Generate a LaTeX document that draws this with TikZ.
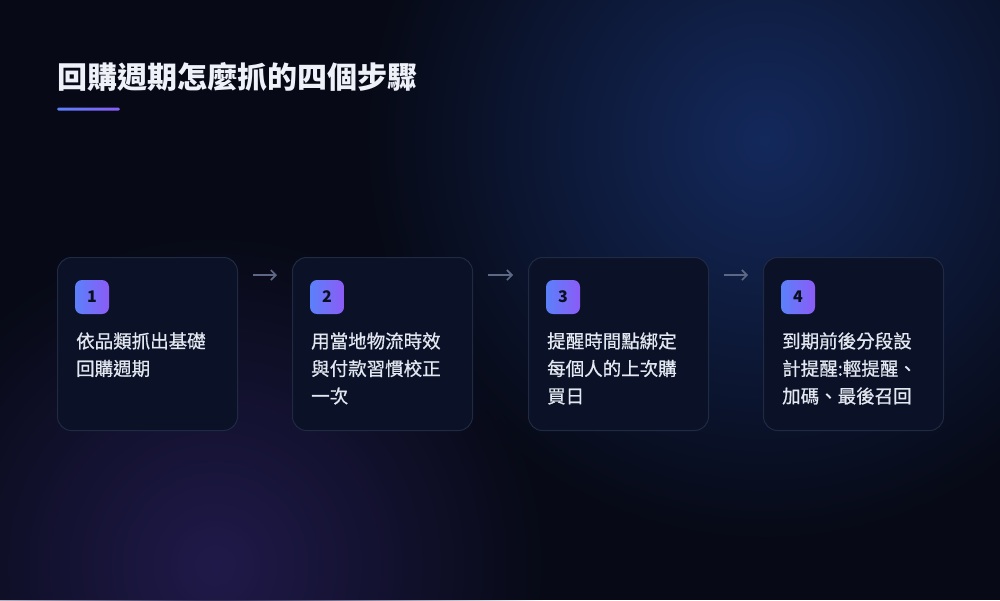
\documentclass[tikz,border=0pt]{standalone}
\usepackage{fontspec}
\newfontfamily\cjk{Noto Sans CJK TC}
\newfontfamily\cjkmed{Noto Sans CJK TC}[FakeBold=0.8]
\usetikzlibrary{arrows.meta,fadings}

\definecolor{bgc}{HTML}{070A16}
\definecolor{glowb}{HTML}{14295C}
\definecolor{glowp}{HTML}{201A4A}
\definecolor{cardfill}{HTML}{0B1126}
\definecolor{cardline}{HTML}{1F2A43}
\definecolor{badgea}{HTML}{5B80FA}
\definecolor{badgeb}{HTML}{8B5CF6}
\definecolor{badgetext}{HTML}{0B1020}
\definecolor{titlec}{HTML}{EEF1F8}
\definecolor{bodyc}{HTML}{E2E7F0}
\definecolor{arrowc}{HTML}{5E6884}

\tikzfading[name=glowfade, inner color=transparent!0, outer color=transparent!100]

\begin{document}
\begin{tikzpicture}[x=1pt,y=-1pt,
  card/.style={draw=cardline,fill=cardfill,line width=1pt,rounded corners=14pt,
    minimum width=180pt,minimum height=173pt,anchor=north west,inner sep=0pt},
  badge/.style={rounded corners=7pt,left color=badgea,right color=badgeb,
    minimum width=34pt,minimum height=34pt,inner sep=0pt,text=badgetext,
    font=\cjk\bfseries\fontsize{16}{16}\selectfont},
  steptext/.style={anchor=base west,align=left,inner sep=0pt,text=bodyc,
    font=\cjkmed\fontsize{18.5}{27.5}\selectfont},
  flow/.style={draw=arrowc,line width=1.6pt,-{Straight Barb[length=5pt,width=10pt]}}]

% background
\useasboundingbox (0,0) rectangle (1000,600);
\clip (0,0) rectangle (1000,600);
\fill[bgc] (0,0) rectangle (1000,600);
\fill[glowb,path fading=glowfade] (765,140) circle (400);
\fill[glowp,path fading=glowfade] (215,565) circle (330);

% title
\node[anchor=base west,inner sep=0pt,text=titlec,font=\cjk\bfseries\fontsize{30}{30}\selectfont] (title) at (57,88) {回購週期怎麼抓的四個步驟};
\shade[left color=badgea,right color=badgeb,rounded corners=1.5pt] (57,107.5) rectangle (120,110.5);

% cards
\node[card] (s1) at (57,257) {};
\node[card] (s2) at (292,257) {};
\node[card] (s3) at (528,257) {};
\node[card] (s4) at (763,257) {};

\node[badge] (b1) at (92,297) {1};
\node[badge] (b2) at (327,297) {2};
\node[badge] (b3) at (563,297) {3};
\node[badge] (b4) at (798,297) {4};

% base west sits on the last line
\node[steptext] (t1) at (76,375.5) {依品類抓出基礎\\回購週期};
\node[steptext] (t2) at (311,403) {用當地物流時效\\與付款習慣校正\\一次};
\node[steptext] (t3) at (547,403) {提醒時間點綁定\\每個人的上次購\\買日};
\node[steptext] (t4) at (782,403) {到期前後分段設\\計提醒:輕提醒、\\加碼、最後召回};

% arrows
\draw[flow] ([xshift=15pt,yshift=-18pt]s1.north east) -- ([xshift=-15pt,yshift=-18pt]s2.north west);
\draw[flow] ([xshift=15pt,yshift=-18pt]s2.north east) -- ([xshift=-15pt,yshift=-18pt]s3.north west);
\draw[flow] ([xshift=15pt,yshift=-18pt]s3.north east) -- ([xshift=-15pt,yshift=-18pt]s4.north west);
\end{tikzpicture}
\end{document}
